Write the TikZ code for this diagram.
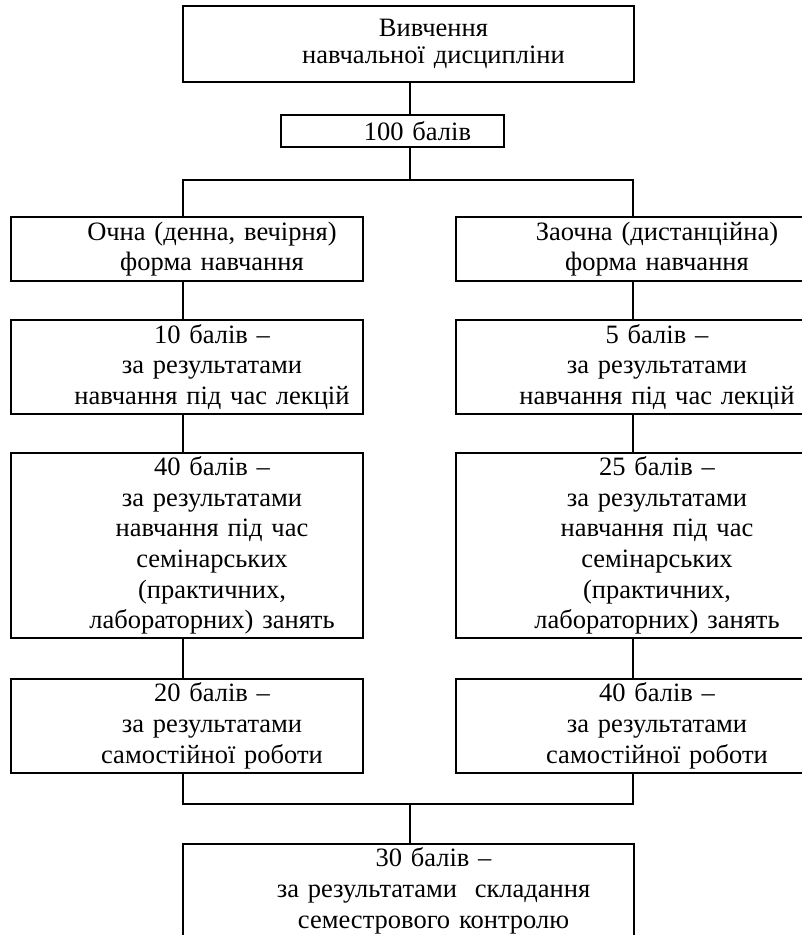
\documentclass[tikz,border=0pt]{standalone}
\usepackage{fontspec}
\setmainfont{Liberation Serif}
\usetikzlibrary{positioning}

\begin{document}
\begin{tikzpicture}[
    x=1pt, y=-1pt,
    node distance=37pt,
    box/.style={rectangle, draw=black, line width=2pt, inner xsep=6pt, inner ysep=2pt,
        text width=340pt, align=center, font=\fontsize{26.5}{30.7}\selectfont,
        execute at begin node={\leftskip=50pt plus 1fil\rightskip=0pt plus 1fil\parfillskip=0pt},
    },
    wide/.style={box, text width=439pt},
    link/.style={line width=2pt},
]
    \useasboundingbox (0,0) rectangle (802,935);
    \clip (0,0) rectangle (802,935);

    \node[wide, minimum height=76pt, font=\fontsize{26.5}{27.5}\selectfont] (study) at (408.5,44) {Вивчення\\навчальної дисципліни};
    \node[box, text width=211pt, minimum height=32pt] (total) at (392.5,131) {100 балів};

    % full-time column
    \node[box, minimum height=64pt] (full) at (187,249) {Очна (денна, вечірня)\\форма навчання};
    \node[box, minimum height=94pt, below=of full] (lecF) {10 балів –\\за результатами\\навчання під час лекцій};
    \node[box, minimum height=185pt, below=of lecF] (semF) {40 балів –\\за результатами\\навчання під час\\семінарських\\(практичних,\\лабораторних) занять};
    \node[box, minimum height=94pt, below=39pt of semF] (selfF) {20 балів –\\за результатами\\самостійної роботи};

    % extramural column
    \node[box, minimum height=64pt] (part) at (632,249) {Заочна (дистанційна)\\форма навчання};
    \node[box, minimum height=94pt, below=of part] (lecP) {5 балів –\\за результатами\\навчання під час лекцій};
    \node[box, minimum height=185pt, below=of lecP] (semP) {25 балів –\\за результатами\\навчання під час\\семінарських\\(практичних,\\лабораторних) занять};
    \node[box, minimum height=94pt, below=39pt of semP] (selfP) {40 балів –\\за результатами\\самостійної роботи};

    \node[wide, minimum height=94pt] (exam) at (408.5,891) {30 балів –\\за результатами\ \ складання\\семестрового контролю};

    \coordinate (spine) at (410,0);
    \coordinate (lspine) at (183,0);
    \coordinate (rspine) at (633,0);
    \coordinate (fork) at (410,180);
    \coordinate (join) at (410,804);

    \draw[link] (study.south -| spine) -- (total.north -| spine);
    \draw[link] (total.south -| spine) -- (fork);
    \draw[link] (full.north -| lspine) |- (fork) -| (part.north -| rspine);
    \foreach \a/\b in {full/lecF, lecF/semF, semF/selfF}
        \draw[link] (\a.south -| lspine) -- (\b.north -| lspine);
    \foreach \a/\b in {part/lecP, lecP/semP, semP/selfP}
        \draw[link] (\a.south -| rspine) -- (\b.north -| rspine);
    \draw[link] (selfF.south -| lspine) |- (join) -| (selfP.south -| rspine);
    \draw[link] (join) -- (exam.north -| join);
\end{tikzpicture}
\end{document}
